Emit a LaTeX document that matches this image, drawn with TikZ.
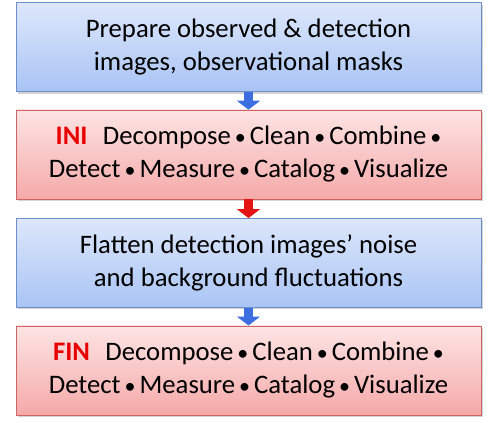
\documentclass[tikz,border=0pt]{standalone}
\usepackage{fontspec}
\setmainfont{Carlito}
\usetikzlibrary{positioning,shadows,arrows.meta}

\definecolor{boxblue}{HTML}{A9C4F5}
\definecolor{boxbluetop}{HTML}{DDE7FB}
\definecolor{edgeblue}{HTML}{6C8FCB}
\definecolor{boxred}{HTML}{F5A9A9}
\definecolor{boxredtop}{HTML}{FDE4E4}
\definecolor{edgered}{HTML}{CF6464}
\definecolor{arrblue}{HTML}{3D6FE3}
\definecolor{arrred}{HTML}{E41414}
\definecolor{tagred}{HTML}{E80000}

\newcommand{\dotsep}{\hspace{0.15em}{\fontsize{22}{22}\selectfont\textbullet}\hspace{0.15em}}

\begin{document}
\begin{tikzpicture}[x=1pt, y=1pt,
    stage/.style={minimum width=465pt, minimum height=89pt, inner sep=0pt,
        align=center, font=\fontsize{26.7}{33}\selectfont,
        drop shadow={shadow xshift=2pt, shadow yshift=-2pt, opacity=0.35}},
    bluestage/.style={stage, draw=edgeblue, top color=boxbluetop, bottom color=boxblue},
    redstage/.style={stage, draw=edgered, top color=boxredtop, bottom color=boxred},
    flow/.style={line width=9pt, -{Triangle[width=23pt, length=9pt]}}]
    \useasboundingbox (0,0) rectangle (488,-423);

    \node[bluestage] (prep) at (248.5,-47)
        {Prepare observed \& detection\\images, observational masks};
    \node[redstage, below=18pt of prep] (ini)
        {{\color{tagred}\textbf{INI}}\hspace{0.35em} Decompose\dotsep Clean\dotsep Combine\dotsep\\
         Detect\dotsep Measure\dotsep Catalog\dotsep Visualize};
    \node[bluestage, below=19pt of ini] (flat)
        {Flatten detection images' noise\\and background fluctuations};
    \node[redstage, below=18pt of flat] (fin)
        {{\color{tagred}\textbf{FIN}}\hspace{0.35em} Decompose\dotsep Clean\dotsep Combine\dotsep\\
         Detect\dotsep Measure\dotsep Catalog\dotsep Visualize};

    % arrows between stages
    \draw[flow, arrblue] (prep.south) -- (ini.north);
    \draw[flow, arrred] (ini.south) -- (flat.north);
    \draw[flow, arrblue] (flat.south) -- (fin.north);
\end{tikzpicture}
\end{document}
